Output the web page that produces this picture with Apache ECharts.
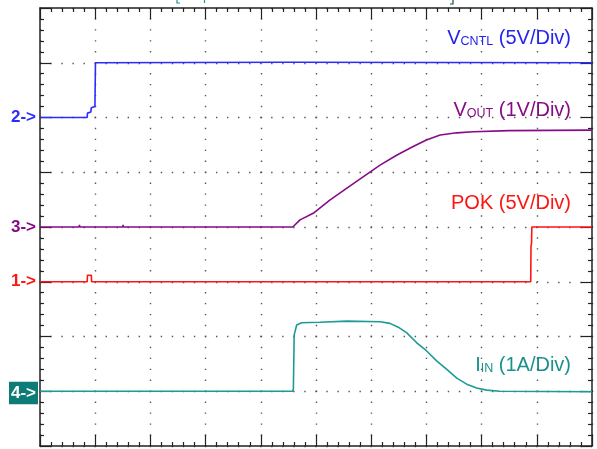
<!DOCTYPE html>
<html lang="en">
<head>
    <meta charset="UTF-8">
    <title>Soft-start waveforms</title>
    <script src="https://cdn.jsdelivr.net/npm/echarts@6/dist/echarts.min.js"></script>
    <style>
        html, body { margin: 0; padding: 0; background: #fff; }
        #chart { width: 597px; height: 449px; }
    </style>
</head>
<body>
    <div id="chart"></div>
    <script>
        // all values in scope divisions (x: 10 div, y: 8 div)
        const vcntlPts = [[0, 6], [0.855, 6], [0.86, 6.08], [0.92, 6.1], [0.93, 6.18], [0.995, 6.2], [1.005, 7.0], [4.5, 7.01], [10, 7.0]];
        const voutPts = [[0, 4], [0.71, 4], [0.715, 4.04], [0.72, 4], [1.5, 4], [1.505, 4.04], [1.51, 4], [2.66, 4], [2.665, 4.03], [2.67, 4],
            [4.58, 4], [4.71, 4.13], [4.95, 4.25], [5.25, 4.49], [5.56, 4.71], [5.86, 4.92], [6.16, 5.13], [6.46, 5.31],
            [6.76, 5.47], [7.0, 5.59], [7.25, 5.68], [7.55, 5.72], [7.85, 5.74], [8.5, 5.76], [10, 5.77]];
        const pokPts = [[0, 3], [0.855, 3], [0.86, 3.12], [0.93, 3.12], [0.935, 3], [8.89, 3], [8.895, 3.65], [8.905, 3.7], [8.91, 4], [10, 4]];
        const iinPts = [[0, 1], [4.58, 1], [4.59, 1.05], [4.605, 2.03], [4.65, 2.21], [4.74, 2.25], [5.07, 2.26], [5.56, 2.28], [6.16, 2.27],
            [6.34, 2.24], [6.49, 2.17], [6.64, 2.07], [6.82, 1.89], [7.0, 1.74], [7.19, 1.55], [7.37, 1.4], [7.55, 1.24],
            [7.73, 1.13], [7.91, 1.06], [8.09, 1.02], [8.33, 1.0], [10, 0.99]];

        const traceNames = ['VCNTL', 'VOUT', 'POK', 'IIN'];
        const traceColors = ['#2b2bff', '#860b86', '#ff1414', '#1c9b96'];
        const markerText = ['2->', '3->', '1->', '4->'];
        const markerLevel = [6, 4, 3, 1];

        const G = { left: 40, top: 8, width: 552, height: 438 };
        const FONT = '"Liberation Sans", Arial, sans-serif';
        const yPx = v => G.top + G.height - v * G.height / 8;

        const myChart = echarts.init(document.getElementById('chart'));

        const borderAxis = {
            type: 'value',
            axisLine: { show: true, onZero: false, lineStyle: { color: '#222', width: 1.5 } },
            axisTick: { show: true, inside: true, length: 11, lineStyle: { color: '#222', width: 1.2 } },
            minorTick: { show: true, splitNumber: 5, length: 4, lineStyle: { color: '#222', width: 1.2 } },
            axisLabel: { show: false },
            splitLine: { show: false }
        };
        const dotted = period => ({ show: true, lineStyle: { color: '#555', width: 1.4, type: [1.4, period - 1.4], dashOffset: 0.7 } });

        const sub = (main, s, rest) => ({
            text: '{m|' + main + '}{s|' + s + '}{m|' + rest + '}',
            rich: {
                m: { fontSize: 20, fontFamily: FONT },
                s: { fontSize: 12.5, fontFamily: FONT, verticalAlign: 'bottom' }
            }
        });

        const labels = [
            { y: 38, color: '#2424ee', t: sub('V', 'CNTL', ' (5V/Div)') },
            { y: 110, color: '#860b86', t: sub('V', 'OUT', ' (1V/Div)') },
            { y: 203, color: '#ff1414', t: { text: 'POK (5V/Div)', font: '20px ' + FONT } },
            { y: 365, color: '#1a918c', t: sub('I', 'IN', ' (1A/Div)') }
        ];

        const graphics = [];
        labels.forEach(l => {
            graphics.push({
                type: 'text', x: 571, y: l.y,
                style: Object.assign({ fill: l.color, align: 'right', verticalAlign: 'middle', font: '20px ' + FONT }, l.t)
            });
        });
        markerText.forEach((t, i) => {
            const y = yPx(markerLevel[i]);
            if (i === 3) {
                graphics.push({ type: 'rect', shape: { x: 9, y: y - 9.5, width: 29, height: 22.5 }, style: { fill: '#0d7b76' } });
            }
            graphics.push({
                type: 'text', x: 36, y: y + (i === 3 ? 2 : 0),
                style: { text: t, fill: i === 3 ? '#fff' : traceColors[i], align: 'right', verticalAlign: 'middle', font: 'bold 17px ' + FONT }
            });
        });
        // trigger / cursor marks cut at the top edge
        graphics.push({ type: 'polyline', shape: { points: [[177, 0], [177, 3], [180, 3]] }, style: { stroke: '#1c8f8a', lineWidth: 1.2, fill: null } });
        graphics.push({ type: 'line', shape: { x1: 204.5, y1: 0, x2: 204.5, y2: 3 }, style: { stroke: '#1c9b96', lineWidth: 1.2 } });
        graphics.push({ type: 'polyline', shape: { points: [[450, 4], [453, 4], [453, 0]] }, style: { stroke: '#134f4c', lineWidth: 1.2, fill: null } });

        const option = {
            animation: false,
            backgroundColor: '#fff',
            grid: G,
            xAxis: [
                Object.assign({}, borderAxis, { min: 0, max: 10, interval: 1, position: 'bottom', splitLine: dotted(G.height / 40) }),
                Object.assign({}, borderAxis, { min: 0, max: 10, interval: 1, position: 'top' })
            ],
            yAxis: [
                Object.assign({}, borderAxis, { min: 0, max: 8, interval: 1, position: 'left', splitLine: dotted(G.width / 50) }),
                Object.assign({}, borderAxis, { min: 0, max: 8, interval: 1, position: 'right' })
            ],
            series: [vcntlPts, voutPts, pokPts, iinPts].map((d, i) => ({
                name: traceNames[i],
                type: 'line',
                data: d,
                showSymbol: false,
                silent: true,
                lineStyle: { color: traceColors[i], width: 1.6 },
                z: 5
            })),
            graphic: graphics
        };
        myChart.setOption(option);
    </script>
</body>
</html>
